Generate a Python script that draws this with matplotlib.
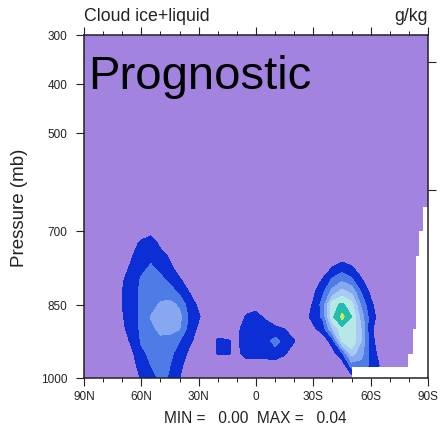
import numpy as np
import matplotlib
matplotlib.use("Agg")
import matplotlib.pyplot as plt

plt.rcParams['font.family'] = ['Liberation Sans', 'DejaVu Sans']

# ---------------- data (cloud ice+liquid, units of 1e-3 g/kg) ----------------
lats = [90, 85, 80, 75, 70, 65, 60, 55, 50, 45, 40, 35, 30, 25,
        20, 15, 10, 5, 0, -5, -10, -15, -20,
        -25, -30, -35, -40, -45, -50, -55, -60, -65, -70, -75, -80, -85, -90]
plevs = [300, 650, 700, 725, 750, 775, 800, 825, 850, 875, 900, 925, 950, 975, 1000]

q300 = [0, 0, 0, 0, 0, 0, 0, 0, 0, 0, 0, 0, 0, 0,  0, 0, 0, 0, 0, 0, 0, 0, 0,  0, 0, 0, 0, 0, 0, 0, 0, 0, 0, 0, 0, 0, 0]
q650 = [0, 0, 0, 0, 0, 0, 0, 0, 0, 0, 0, 0, 0, 0,  0, 0, 0, 0, 0, 0, 0, 0, 0,  0, 0, 0, 0, 0, 0, 0, 0, 0, 0, 0, 0, 0, 0]
q700 = [0, 0, 0, 0, 0, 0, 2, 3, 2, 0, 0, 0, 0, 0,  0, 0, 0, 0, 0, 0, 0, 0, 0,  0, 0, 0, 0, 0, 0, 0, 0, 0, 0, 0, 0, 0, 0]
q725 = [0, 0, 0, 0, 0, 3, 6, 8, 3.5, 1, 0, 0, 0, 0,  0, 0, 0, 0, 0, 0, 0, 0, 0,  0, 0, 0, 0, 0, 0, 0, 0, 0, 0, 0, 0, 0, 0]
q750 = [0, 0, 0, 0, 2, 4.5, 8, 9, 7, 4, 1, 0, 0, 0,  0, 0, 0, 0, 0, 0, 0, 0, 0,  0, 0, 0, 2, 2, 2, 0, 0, 0, 0, 0, 0, 0, 0]
q775 = [0, 0, 0, 0, 3, 6, 9, 10.5, 9, 6, 3, 0, 0, 0,  0, 0, 0, 0, 0, 0, 0, 0, 0,  0, 0, 2, 5.2, 7.5, 5.5, 3, 0, 0, 0, 0, 0, 0, 0]
q800 = [0, 0, 0, 0, 4.5, 7, 10.5, 12, 11, 9, 5.5, 3, 0, 0,  0, 0, 0, 0, 0, 0, 0, 0, 0,  0, 2, 5.5, 11, 14, 11, 5.5, 2, 0, 0, 0, 0, 0, 0]
q825 = [0, 0, 0, 0, 5, 8, 11, 13, 13.5, 12, 9, 5, 2, 0,  0, 0, 0, 0, 0, 0, 0, 0, 0,  1, 4, 9, 17, 22, 19, 10, 4, 1, 0, 0, 0, 0, 0]
q850 = [0, 0, 0, 0, 5, 8, 11, 13.5, 15.5, 16.5, 14, 7.5, 4, 0,  0, 0, 0, 3, 4, 2, 0, 0, 0,  2, 5.5, 12, 28, 31, 27, 14, 6, 2, 0, 0, 0, 0, 0]
q875 = [0, 0, 0, 0, 4.5, 8, 11, 15.2, 17, 18, 16.5, 9, 5.5, 2,  0, 0, 2, 5.5, 5.8, 4.5, 2, 2, 1,  3, 6.5, 11, 29, 36.5, 30, 18, 7, 3, 0, 0, 0, 0, 0]
q900 = [0, 0, 0, 0, 4, 7, 11, 14, 16, 16.5, 15.2, 8, 4, 0,  2, 2, 4, 7, 7, 6.5, 6, 5, 3,  1.5, 4, 7, 20, 28.5, 28, 20, 6, 2, 0, 0, 0, 0, 0]
q925 = [0, 0, 0, 0, 2, 6, 10.5, 12, 14, 13, 10, 6, 3, 0,  6, 5.5, 4, 8, 8, 8, 12, 8, 5.2,  1, 1, 2, 7, 25, 29, 20, 6.5, 2.5, 0, 0, 0, 0, 0]
q950 = [0, 0, 0, 0, 0, 4, 9, 11, 12, 11, 8, 4, 1, 0,  5.5, 5.5, 4, 6.5, 6.5, 6.5, 7, 5.5, 2,  0, 0, 0, 3, 9, 22, 17, 8, 3, 0, 0, 0, 0, 0]
q975 = [0, 0, 0, 0, 0, 3, 7, 10, 11, 10, 6, 3, 0, 0,  1, 1, 0, 3, 3, 3, 3, 2, 0,  0, 0, 0, 0, 1, 12, 13, 9, 4.5, 0, 0, 0, 0, 0]
q1000 = [0, 0, 0, 0, 0, 2, 5.5, 9, 10.5, 9.8, 5, 2, 0, 0,  0, 0, 0, 0, 0, 0, 0, 0, 0,  0, 0, 0, 0, 0, 2, 6, 4, 2, 0, 0, 0, 0, 0]

# missing data (below surface) over Antarctica
mask_lat_edges = [-50, -79.7, -82.0, -83.7, -85.5, -87.2, -90]
mask_p_top = [977, 951, 900, 751, 700, 651]

contour_levels = [0.005, 0.010, 0.015, 0.020, 0.025, 0.030, 0.035]
fill_colors = ['#A283DF', '#0B2FD4', '#4D7CE7', '#85A8F1', '#A8CBF3', '#B8E8E6', '#22BCB0', '#D8E650']

xticks = [90, 60, 30, 0, -30, -60, -90]
xticklabels = ['90N', '60N', '30N', '0', '30S', '60S', '90S']
yticks = [300, 400, 500, 700, 850, 1000]
yticklabels = ['300', '400', '500', '700', '850', '1000']
right_ticks = [356, 617]

# ---------------- figure ----------------
fig = plt.figure(figsize=(4.4, 4.31), dpi=100)
ax = fig.add_axes([84 / 440, 1 - 379 / 431, 344 / 440, 343 / 431])

q = np.array([q300, q650, q700, q725, q750, q775, q800, q825, q850, q875,
              q900, q925, q950, q975, q1000]) * 1e-3
X, Y = np.meshgrid(lats, plevs)
ax.set_facecolor(fill_colors[0])
ax.contourf(X, Y, q, levels=[-1.0] + contour_levels + [1.0], colors=fill_colors)

for i in range(len(mask_p_top)):
    ax.fill_between([mask_lat_edges[i], mask_lat_edges[i + 1]],
                    [mask_p_top[i], mask_p_top[i]], [1000, 1000],
                    color='white', lw=0, zorder=3)

ax.set_xlim(90, -90)
ax.set_ylim(1000, 300)

ax.set_xticks(xticks)
ax.set_xticklabels(xticklabels)
ax.set_xticks(np.arange(-80, 90, 10), minor=True)
ax.set_yticks(yticks)
ax.set_yticklabels(yticklabels)

ax.tick_params(axis='x', which='major', direction='out', length=5.8, width=0.8,
               top=True, bottom=True, labelsize=8.5, pad=3, colors='#222222',
               labelcolor='#222222')
ax.tick_params(axis='x', which='minor', direction='out', length=2.9, width=0.7,
               top=True, bottom=True, colors='#222222')
ax.tick_params(axis='y', which='major', direction='out', length=5.5, width=0.8,
               left=True, right=False, labelsize=8.5, pad=6.5, colors='#222222',
               labelcolor='#222222')

for s in ax.spines.values():
    s.set_linewidth(1.1)
    s.set_color('#222222')
    s.set_zorder(5)

ax2 = ax.twinx()
ax2.set_ylim(1000, 300)
ax2.set_yticks(right_ticks)
ax2.set_yticklabels(['', ''])
ax2.tick_params(axis='y', direction='out', length=6, width=0.8, colors='#222222')
for s in ax2.spines.values():
    s.set_visible(False)

ax.set_ylabel('Pressure (mb)', fontsize=13.5, labelpad=9, color='#222222')

ax.text(0.012, 0.845, 'Prognostic', transform=ax.transAxes, fontsize=34,
        va='baseline', ha='left', color='black', zorder=6)

fig.text(84 / 440, 1 - 21 / 431, 'Cloud ice+liquid', fontsize=12.8, ha='left',
         va='baseline', color='#222222')
fig.text(428 / 440, 1 - 21 / 431, 'g/kg', fontsize=12.8, ha='right',
         va='baseline', color='#222222')
fig.text(255 / 440, 1 - 423 / 431, 'MIN =   0.00  MAX =   0.04', fontsize=11.2,
         ha='center', va='baseline', color='#222222')

fig.savefig('out.png', dpi=100)
